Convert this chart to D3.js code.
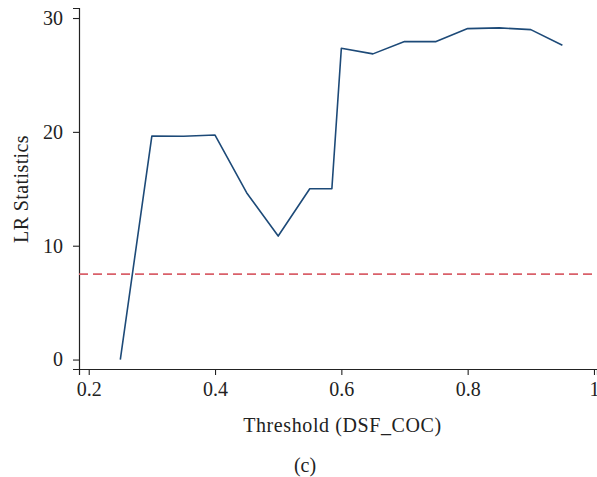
<!DOCTYPE html>
<html>
<head>
<meta charset="utf-8">
<script src="https://cdn.jsdelivr.net/npm/d3@7"></script>
<style>
  body { margin: 0; background: #fff; }
  svg { display: block; font-family: "Liberation Serif", "DejaVu Serif", serif; }
</style>
</head>
<body>
<svg id="chart" width="597" height="477"></svg>
<script>
// LR statistic by threshold value
const thresholds = [0.25, 0.30, 0.35, 0.40, 0.45, 0.50, 0.55, 0.585, 0.60, 0.65, 0.70, 0.75, 0.80, 0.85, 0.90, 0.95];
const lrStats = [0, 19.64, 19.62, 19.72, 14.66, 10.85, 15.0, 15.0, 27.35, 26.85, 27.93, 27.93, 29.07, 29.13, 28.98, 27.6];
const criticalValue = 7.51;
const xTicks = [0.2, 0.4, 0.6, 0.8, 1];
const yTicks = [0, 10, 20, 30];

const svg = d3.select("#chart");
const plotLeft = 79, plotRight = 597, plotTop = 8, plotBottom = 369;

const x = d3.scaleLinear().domain([0.1846, 1.0048]).range([plotLeft, plotRight]);
const y = d3.scaleLinear().domain([-0.83, 30.88]).range([plotBottom, plotTop]);

const xAxis = svg.append("g")
  .attr("transform", `translate(0,${plotBottom})`)
  .call(d3.axisBottom(x).tickValues(xTicks).tickSize(6).tickPadding(7)
    .tickFormat((d) => d === 1 ? "1" : d3.format(".1f")(d)));
const yAxis = svg.append("g")
  .attr("transform", `translate(${plotLeft},0)`)
  .call(d3.axisLeft(y).tickValues(yTicks).tickSize(6).tickPadding(10));

[xAxis, yAxis].forEach((g) => {
  g.select(".domain").attr("stroke", "#222").attr("stroke-width", 1.2);
  g.selectAll(".tick line").attr("stroke", "#222").attr("stroke-width", 1.1);
  g.selectAll(".tick text")
    .attr("fill", "#222")
    .style("font-family", "'Liberation Serif', 'DejaVu Serif', serif")
    .style("font-size", "20px");
});

svg.append("line")
  .attr("x1", plotLeft).attr("x2", plotRight)
  .attr("y1", y(criticalValue)).attr("y2", y(criticalValue))
  .attr("stroke", "#d9606a")
  .attr("stroke-width", 1.8)
  .attr("stroke-dasharray", "9,5");

const line = d3.line().x((d, i) => x(thresholds[i])).y((d) => y(d));
svg.append("path")
  .datum(lrStats)
  .attr("fill", "none")
  .attr("stroke", "#1d4a78")
  .attr("stroke-width", 1.6)
  .attr("stroke-linejoin", "round")
  .attr("d", line);

svg.append("text")
  .attr("transform", "translate(28,189) rotate(-90)")
  .attr("text-anchor", "middle")
  .attr("fill", "#222")
  .style("font-size", "20px")
  .style("letter-spacing", "0.4px")
  .text("LR Statistics");

svg.append("text")
  .attr("x", 342.5).attr("y", 432)
  .attr("text-anchor", "middle")
  .attr("fill", "#222")
  .style("font-size", "20px")
  .style("letter-spacing", "0.6px")
  .text("Threshold (DSF_COC)");

svg.append("text")
  .attr("x", 305).attr("y", 472)
  .attr("text-anchor", "middle")
  .attr("fill", "#222")
  .style("font-size", "20px")
  .text("(c)");
</script>
</body>
</html>
